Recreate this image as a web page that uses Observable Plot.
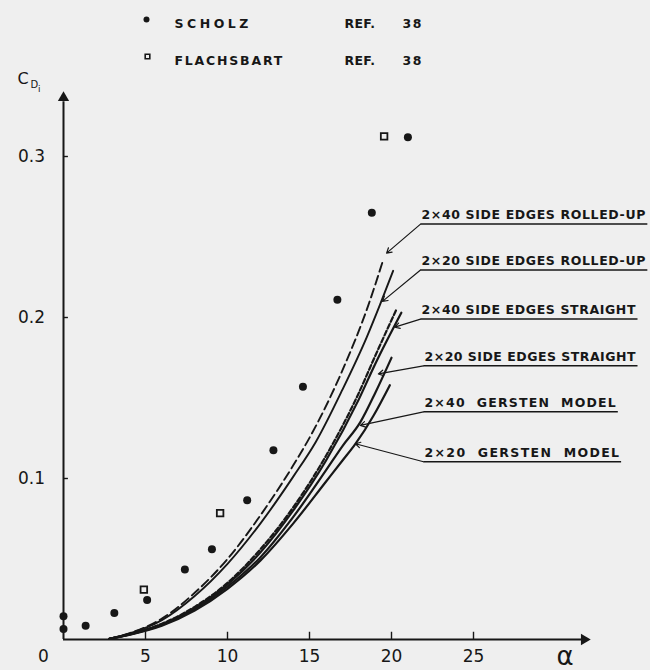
<!DOCTYPE html>
<html><head><meta charset="utf-8">
<script src="https://cdn.jsdelivr.net/npm/d3@7"></script>
<script src="https://cdn.jsdelivr.net/npm/@observablehq/plot@0.6"></script>
<style>
html,body{margin:0;padding:0;background:#efefef;}
#chart svg{display:block;}
</style></head><body><div id="chart"></div>
<script>
// ---------- data ----------
const scholzAlpha = [0, 0, 1.35, 3.1, 5.1, 7.4, 9.05, 11.2, 12.8, 14.6, 16.7, 18.8, 21.0];
const scholzCd    = [0.0145, 0.0065, 0.0085, 0.0165, 0.0245, 0.0435, 0.056, 0.0865, 0.1175, 0.157, 0.211, 0.265, 0.312];

const flachsbartAlpha = [4.9, 9.55, 19.55];
const flachsbartCd    = [0.031, 0.0785, 0.3125];

const rolled40Alpha = [2.8, 4, 6, 8, 10, 12, 14, 15.2, 17, 18.6, 19.5];
const rolled40Cd    = [0.0005, 0.0038, 0.013, 0.029, 0.050, 0.077, 0.108, 0.129, 0.167, 0.208, 0.236];

const rolled20Alpha = [2.8, 4, 6, 8, 10, 12, 14, 15.4, 17, 18.5, 19.3, 20.1];
const rolled20Cd    = [0.0005, 0.0036, 0.012, 0.027, 0.047, 0.072, 0.101, 0.123, 0.155, 0.188, 0.208, 0.229];

const straight40Alpha = [2.8, 4, 6, 8, 10, 12, 14, 16, 18, 19, 20.3];
const straight40Cd    = [0.0004, 0.0032, 0.0098, 0.0203, 0.0352, 0.056, 0.082, 0.114, 0.153, 0.176, 0.205];

const straight20Alpha = [2.8, 4, 6, 8, 10, 12, 14, 16, 18, 19, 20.6];
const straight20Cd    = [0.0004, 0.0031, 0.0094, 0.0196, 0.0342, 0.054, 0.080, 0.111, 0.149, 0.171, 0.203];

const gersten40Alpha = [2.8, 4, 6, 8, 10, 12, 14, 16, 17, 18.1, 19, 20];
const gersten40Cd    = [0.0004, 0.003, 0.009, 0.0188, 0.0328, 0.051, 0.076, 0.105, 0.120, 0.135, 0.153, 0.175];

const gersten20Alpha = [2.8, 4, 6, 8, 10, 12, 14, 16, 17, 17.8, 18.9, 19.9];
const gersten20Cd    = [0.0004, 0.0029, 0.0086, 0.018, 0.0315, 0.049, 0.072, 0.098, 0.111, 0.1215, 0.139, 0.158];

const curveLabels = [
  "2×40 SIDE EDGES ROLLED-UP",
  "2×20 SIDE EDGES ROLLED-UP",
  "2×40 SIDE EDGES STRAIGHT",
  "2×20 SIDE EDGES STRAIGHT",
  "2×40  GERSTEN  MODEL",
  "2×20  GERSTEN  MODEL"
];
const labelStartAlpha = [21.77, 21.77, 21.77, 21.95, 21.95, 21.95];
const labelEndAlpha   = [35.6, 35.6, 35.0, 35.0, 33.8, 34.0];
const labelLineCd     = [0.258, 0.2295, 0.199, 0.170, 0.1414, 0.1104];
const pointerAlpha    = [19.7, 19.45, 20.2, 19.2, 18.1, 17.8];
const pointerCd       = [0.240, 0.210, 0.194, 0.165, 0.133, 0.1216];

const xTicks = [5, 10, 15, 20, 25];
const yTicks = [0.1, 0.2, 0.3];
const legendNames = ["SCHOLZ", "FLACHSBART"];
const legendRefs = ["REF.", "REF."];
const legendNums = ["38", "38"];

// ---------- styles ----------
const ink = "#171717";
const curves = [
  {a: rolled40Alpha, c: rolled40Cd, dash: "9,4.5", w: 1.9},
  {a: rolled20Alpha, c: rolled20Cd, dash: null, w: 1.9},
  {a: straight40Alpha, c: straight40Cd, dash: "5,2.5", w: 2.2},
  {a: straight20Alpha, c: straight20Cd, dash: null, w: 2.2},
  {a: gersten40Alpha, c: gersten40Cd, dash: null, w: 2.2},
  {a: gersten20Alpha, c: gersten20Cd, dash: null, w: 2.2}
];
const idx = n => d3.range(n);

const curveMarks = curves.map(cv =>
  Plot.line(idx(cv.a.length), {
    x: i => cv.a[i], y: i => cv.c[i],
    stroke: ink, strokeWidth: cv.w, curve: "monotone-x",
    strokeDasharray: cv.dash ?? undefined
  })
);

const legendFont = {frameAnchor: "top-left", textAnchor: "start", fontSize: 12.5, fontWeight: "bold", fill: ink};
const legendRow = (k, dy, symbolMark) => [
  symbolMark,
  Plot.text([legendNames[k]], {...legendFont, text: d => d, dx: 111, dy}),
  Plot.text([legendRefs[k]], {...legendFont, text: d => d, dx: 281, dy}),
  Plot.text([legendNums[k]], {...legendFont, text: d => d, dx: 339, dy})
];

const plot = Plot.plot({
  width: 650, height: 670,
  marginLeft: 63, marginRight: 62.2, marginTop: 91.6, marginBottom: 31,
  x: {domain: [0, 32], axis: null},
  y: {domain: [0, 0.34], axis: null},
  style: {background: "#efefef", color: ink, fontFamily: "DejaVu Sans, sans-serif"},
  marks: [
    // axes with arrow heads
    Plot.ruleX([0], {x: d => d, y1: 0, y2: 0.334, stroke: ink, strokeWidth: 2}),
    Plot.ruleY([0], {y: d => d, x1: 0, x2: 31.6, stroke: ink, strokeWidth: 2}),
    Plot.dot([0], {x: d => d, y: () => 0.3365, symbol: "triangle", r: 4.2, fill: ink, stroke: "none"}),
    Plot.dot([0], {x: () => 31.75, y: d => d, symbol: "triangle", r: 4.2, rotate: 90, fill: ink, stroke: "none"}),
    Plot.ruleX(xTicks, {x: d => d, y1: 0, y2: 0.0045, stroke: ink, strokeWidth: 1.4}),
    Plot.ruleY(yTicks, {y: d => d, x1: 0, x2: 0.3, stroke: ink, strokeWidth: 1.4}),
    Plot.text(xTicks, {x: d => d, y: () => 0, dy: 17, text: d => String(d), fontSize: 17, fill: ink}),
    Plot.text([0], {x: d => d, y: d => d, dx: -20, dy: 17, text: d => String(d), fontSize: 17, fill: ink}),
    Plot.text(yTicks, {x: () => 0, y: d => d, dx: -32, text: d => d.toFixed(1), fontSize: 17, fill: ink}),
    // axis titles
    Plot.text(["C"], {text: d => d, frameAnchor: "top-left", dx: -46, dy: -19, fontSize: 16, fill: ink}),
    Plot.text(["D"], {text: d => d, frameAnchor: "top-left", dx: -33, dy: -11, fontSize: 10, fill: ink}),
    Plot.text(["i"], {text: d => d, frameAnchor: "top-left", dx: -25.5, dy: -6.5, fontSize: 9, fill: ink}),
    Plot.text(["α"], {text: d => d, frameAnchor: "bottom-left", dx: 493, dy: 25, fontSize: 26, fill: ink}),
    // legend
    ...legendRow(0, -72.6, Plot.dot([0], {frameAnchor: "top-left", dx: 83, dy: -72.6, r: 3, fill: ink, stroke: "none"})),
    ...legendRow(1, -35.6, Plot.dot([0], {frameAnchor: "top-left", dx: 84, dy: -35.6, symbol: "square", r: 2.6, fill: "none", stroke: ink, strokeWidth: 1.6})),
    // theory curves
    ...curveMarks,
    // experimental points
    Plot.dot(idx(scholzAlpha.length), {x: i => scholzAlpha[i], y: i => scholzCd[i], r: 4, fill: ink, stroke: "none"}),
    Plot.dot(idx(flachsbartAlpha.length), {x: i => flachsbartAlpha[i], y: i => flachsbartCd[i], symbol: "square", r: 3.7, fill: "none", stroke: ink, strokeWidth: 1.8}),
    // curve labels, underlines, pointers
    Plot.link(idx(curveLabels.length), {x1: i => labelStartAlpha[i], x2: i => labelEndAlpha[i], y1: i => labelLineCd[i], y2: i => labelLineCd[i], stroke: ink, strokeWidth: 1.5}),
    Plot.arrow(idx(curveLabels.length), {x1: i => labelStartAlpha[i], y1: i => labelLineCd[i], x2: i => pointerAlpha[i], y2: i => pointerCd[i], stroke: ink, strokeWidth: 1.2, headLength: 7}),
    Plot.text(idx(curveLabels.length), {x: i => labelStartAlpha[i], y: i => labelLineCd[i], dy: -9, dx: 1, text: i => curveLabels[i], textAnchor: "start", fontSize: 12.5, fontWeight: "bold", fill: ink})
  ]
});

document.getElementById("chart").appendChild(plot);

// fit curve label text to the width of its underline; legend letter spacing
const sx = plot.scale("x");
const legendSpacing = {"SCHOLZ": 3.5, "FLACHSBART": 1.8, "REF.": 0.3, "38": 1.5};
d3.select(plot).selectAll("text").each(function () {
  const t = this.textContent;
  const k = curveLabels.indexOf(t);
  if (k >= 0) {
    const w = sx.apply(labelEndAlpha[k]) - sx.apply(labelStartAlpha[k]) - 3;
    this.setAttribute("textLength", w);
    this.setAttribute("lengthAdjust", "spacing");
    this.style.whiteSpace = "pre";
  } else if (Object.prototype.hasOwnProperty.call(legendSpacing, t)) {
    this.setAttribute("letter-spacing", legendSpacing[t]);
  }
});
</script>
</body></html>
